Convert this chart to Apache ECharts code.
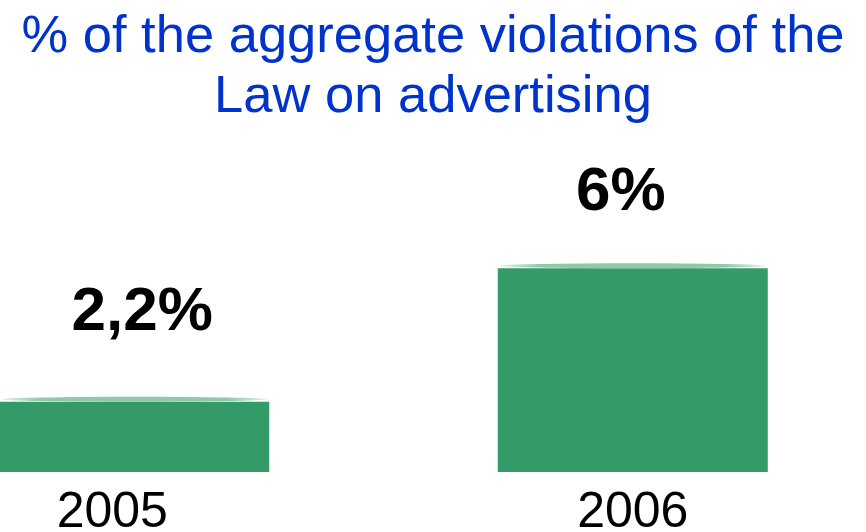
<!DOCTYPE html>
<html>
<head>
<meta charset="utf-8">
<script src="https://cdn.jsdelivr.net/npm/echarts@6/dist/echarts.min.js"></script>
<style>
    html, body { margin: 0; padding: 0; background: #fff; }
    #main { width: 866px; height: 532px; }
</style>
</head>
<body>
<div id="main"></div>
<script>
// data
const years = ['2005', '2006'];
const violations = [2.2, 6];
const titleText = '% of the aggregate violations of the\nLaw on advertising';

const chart = echarts.init(document.getElementById('main'));

const green = '#349a67';
const font = "'Liberation Sans', Arial, sans-serif";

// label nudges per bar
const labelOffsets = [[8, -58], [-12, -44]];

const option = {
    animation: false,
    title: {
        text: titleText,
        left: 'center',
        top: 0,
        padding: [8, 0, 0, 8],
        textStyle: {
            color: '#0033cc',
            fontFamily: font,
            fontSize: 52.5,
            fontWeight: 'normal',
            lineHeight: 60
        }
    },
    grid: {
        left: -115,
        right: -16,
        top: 198,
        bottom: 60,
        outerBoundsMode: 'none'
    },
    xAxis: {
        type: 'category',
        data: years.map(function (y, i) {
            // first label sits a little left of its bar
            return i === 0 ? { value: y, textStyle: { padding: [0, 44, 0, 0] } } : y;
        }),
        axisLine: { show: false },
        axisTick: { show: false },
        axisLabel: {
            color: '#000',
            fontFamily: font,
            fontSize: 50,
            margin: 16
        }
    },
    yAxis: {
        type: 'value',
        min: 0.2,
        max: 8,
        show: false,
        splitLine: { show: false }
    },
    series: [
        {
            type: 'bar',
            barWidth: 270,
            itemStyle: { color: green },
            data: violations.map(function (v, i) {
                return {
                    value: v,
                    label: { offset: labelOffsets[i] }
                };
            }),
            label: {
                show: true,
                position: 'top',
                distance: 0,
                color: '#000',
                fontFamily: font,
                fontSize: 62,
                fontWeight: 'bold',
                formatter: function (p) {
                    return String(p.value).replace('.', ',') + '%';
                }
            }
        },
        {
            // light rim on top of each cylinder
            type: 'pictorialBar',
            symbol: 'circle',
            symbolSize: [266, 5],
            symbolPosition: 'end',
            symbolOffset: [0, '-100%'],
            z: 3,
            itemStyle: {
                color: new echarts.graphic.LinearGradient(0, 0, 1, 0, [
                    { offset: 0, color: '#e3f1e9' },
                    { offset: 0.15, color: '#8ec9a8' },
                    { offset: 0.85, color: '#8ec9a8' },
                    { offset: 1, color: '#e3f1e9' }
                ])
            },
            data: violations
        }
    ]
};

chart.setOption(option);

window.addEventListener('resize', function () {
    chart.resize();
});
</script>
</body>
</html>
